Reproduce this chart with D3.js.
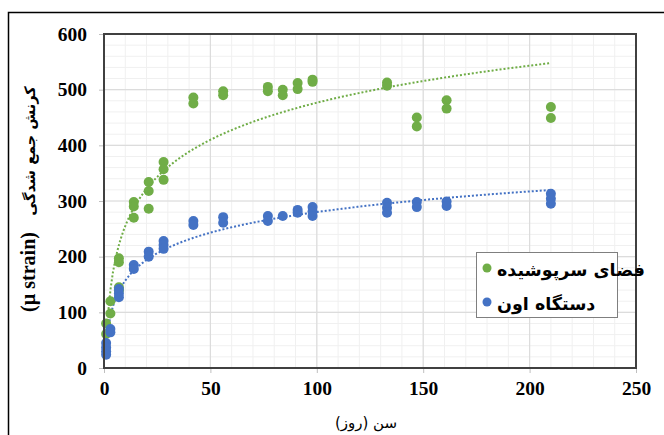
<!DOCTYPE html>
<html>
<head>
<meta charset="utf-8">
<script src="https://cdn.jsdelivr.net/npm/d3@7/dist/d3.min.js"></script>
<style>
  body { margin: 0; background: #fff; }
  svg { display: block; }
</style>
</head>
<body>
<svg id="chart" width="664" height="435"></svg>
<script>
// axis ticks
var xTicks = [0, 50, 100, 150, 200, 250];
var yTicks = [0, 100, 200, 300, 400, 500, 600];

// series labels
var seriesNames = ["فضای سرپوشیده", "دستگاه اون"];

// فضای سرپوشیده (green)
var greenDays = [1, 1, 3, 3, 7, 7, 7, 7, 14, 14, 14, 21, 21, 21, 28, 28, 28,
                 42, 42, 56, 56, 77, 77, 84, 84, 91, 91, 98, 98, 133, 133,
                 147, 147, 161, 161, 210, 210];
var greenVals = [80, 61, 98, 120, 197, 190, 145, 139, 298, 290, 270, 334, 318, 286, 370, 357, 338,
                 486, 475, 497, 490, 505, 497, 500, 490, 512, 501, 518, 514, 513, 507,
                 450, 434, 481, 466, 469, 449];

// دستگاه اون (blue)
var blueDays = [1, 1, 1, 1, 3, 3, 7, 7, 7, 14, 14, 21, 21, 28, 28, 28,
                42, 42, 56, 56, 77, 77, 84, 91, 91, 98, 98, 98, 133, 133, 133,
                147, 147, 161, 161, 210, 210, 210];
var blueVals = [45, 37, 30, 24, 70, 64, 142, 134, 127, 185, 178, 209, 200, 228, 221, 214,
                264, 257, 271, 261, 273, 264, 273, 284, 279, 289, 281, 273, 297, 288, 279,
                298, 289, 299, 291, 313, 304, 295];

var colors = ["#70AD47", "#4472C4"];

var svg = d3.select("#chart");
var pLeft = 104, pRight = 636, pTop = 34, pBottom = 368;

var x = d3.scaleLinear().domain([0, 250]).range([pLeft, pRight]);
var y = d3.scaleLinear().domain([0, 600]).range([pBottom, pTop]);

// outer frame
svg.append("rect")
    .attr("x", 8.5).attr("y", 12.5)
    .attr("width", 700).attr("height", 500)
    .attr("fill", "none").attr("stroke", "#000").attr("stroke-width", 1.5);

// minor grid
var g = svg.append("g");
g.selectAll(".vminor").data(d3.range(0, 251, 10)).enter().append("line")
    .attr("x1", function(d){ return x(d); }).attr("x2", function(d){ return x(d); })
    .attr("y1", pTop).attr("y2", pBottom)
    .attr("stroke", "#f0f0f0").attr("stroke-width", 1);
g.selectAll(".hminor").data(d3.range(0, 601, 20)).enter().append("line")
    .attr("y1", function(d){ return y(d); }).attr("y2", function(d){ return y(d); })
    .attr("x1", pLeft).attr("x2", pRight)
    .attr("stroke", "#f0f0f0").attr("stroke-width", 1);

// major grid
g.selectAll(".vmajor").data(xTicks).enter().append("line")
    .attr("x1", function(d){ return x(d); }).attr("x2", function(d){ return x(d); })
    .attr("y1", pTop).attr("y2", pBottom)
    .attr("stroke", "#dcdcdc").attr("stroke-width", 1.2);
g.selectAll(".hmajor").data(yTicks).enter().append("line")
    .attr("y1", function(d){ return y(d); }).attr("y2", function(d){ return y(d); })
    .attr("x1", pLeft).attr("x2", pRight)
    .attr("stroke", "#dcdcdc").attr("stroke-width", 1.2);

// axes
var xAxis = svg.append("g").attr("transform", "translate(0," + pBottom + ")")
    .call(d3.axisBottom(x).tickValues(xTicks).tickSize(5).tickPadding(8));
var yAxis = svg.append("g").attr("transform", "translate(" + pLeft + ",0)")
    .call(d3.axisLeft(y).tickValues(yTicks).tickSize(5).tickPadding(12));
[xAxis, yAxis].forEach(function(a){
  a.select(".domain").remove();
  a.selectAll("line").attr("stroke", "#bfbfbf");
  a.selectAll("text")
    .attr("font-family", "'Liberation Serif', 'Times New Roman', serif")
    .attr("font-weight", "bold")
    .attr("font-size", 19.5)
    .attr("fill", "#000");
});

// trend lines (log fit, like excel)
function logFit(xs, ys) {
  var lx = xs.map(Math.log);
  var mx = d3.mean(lx), my = d3.mean(ys);
  var num = 0, den = 0;
  for (var i = 0; i < lx.length; i++) {
    num += (lx[i] - mx) * (ys[i] - my);
    den += (lx[i] - mx) * (lx[i] - mx);
  }
  var a = num / den;
  return { a: a, b: my - a * mx };
}

svg.append("clipPath").attr("id", "plotclip")
  .append("rect").attr("x", pLeft).attr("y", pTop)
  .attr("width", pRight - pLeft).attr("height", pBottom - pTop);

var line = d3.line()
    .x(function(d){ return x(d[0]); })
    .y(function(d){ return y(d[1]); });

[[greenDays, greenVals], [blueDays, blueVals]].forEach(function(s, i){
  var fit = logFit(s[0], s[1]);
  var x0 = d3.min(s[0]), x1 = d3.max(s[0]);
  var pts = d3.range(0, 201).map(function(k){
    var t = x0 + (x1 - x0) * k / 200;
    return [t, fit.a * Math.log(t) + fit.b];
  });
  svg.append("path")
    .datum(pts)
    .attr("d", line)
    .attr("clip-path", "url(#plotclip)")
    .attr("fill", "none")
    .attr("stroke", colors[i])
    .attr("stroke-width", 2)
    .attr("stroke-dasharray", "2,2");
});

// points
[[greenDays, greenVals], [blueDays, blueVals]].forEach(function(s, i){
  svg.append("g").selectAll("circle")
    .data(d3.range(s[0].length)).enter().append("circle")
    .attr("cx", function(k){ return x(s[0][k]); })
    .attr("cy", function(k){ return y(s[1][k]); })
    .attr("r", 5)
    .attr("fill", colors[i]);
});

// plot area border
svg.append("rect")
    .attr("x", pLeft).attr("y", pTop)
    .attr("width", pRight - pLeft).attr("height", pBottom - pTop)
    .attr("fill", "none").attr("stroke", "#404040").attr("stroke-width", 2);

// legend
var lg = svg.append("g");
lg.append("rect")
    .attr("x", 476.5).attr("y", 252.5).attr("width", 141).attr("height", 65)
    .attr("fill", "#fff").attr("stroke", "#7f7f7f").attr("stroke-width", 1);
seriesNames.forEach(function(name, i){
  var cy = 268 + i * 34;
  lg.append("circle").attr("cx", 487).attr("cy", cy).attr("r", 4.5).attr("fill", colors[i]);
  lg.append("text")
    .attr("x", 497).attr("y", cy + 8)
    .attr("font-family", "'DejaVu Sans', sans-serif")
    .attr("font-weight", "bold")
    .attr("font-size", 17.5)
    .attr("fill", "#000")
    .text(name);
});

// axis titles
svg.append("text")
    .attr("x", 366).attr("y", 428)
    .attr("text-anchor", "middle")
    .attr("font-family", "'DejaVu Sans', sans-serif")
    .attr("font-size", 15)
    .attr("fill", "#000")
    .text("سن (روز)");

svg.append("text")
    .attr("transform", "translate(35,151) rotate(-90)")
    .attr("text-anchor", "middle")
    .attr("font-family", "'DejaVu Sans', sans-serif")
    .attr("font-weight", "bold")
    .attr("font-size", 14.5)
    .attr("fill", "#000")
    .text("کرنش جمع شدگی");

svg.append("text")
    .attr("transform", "translate(35,272) rotate(-90)")
    .attr("text-anchor", "middle")
    .attr("font-family", "'Liberation Serif', 'Times New Roman', serif")
    .attr("font-weight", "bold")
    .attr("font-size", 20)
    .attr("fill", "#000")
    .text("(µ strain)");
</script>
</body>
</html>
